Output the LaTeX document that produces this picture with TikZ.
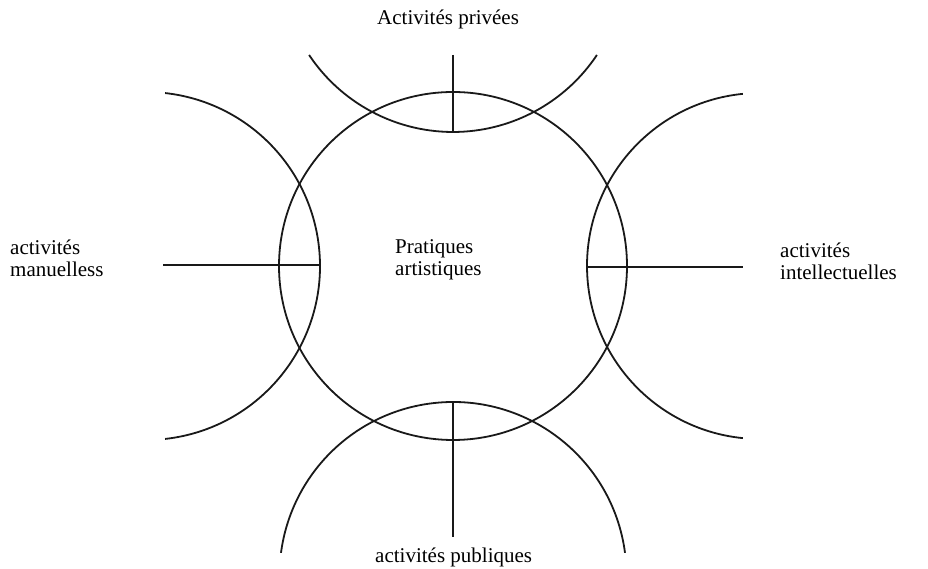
\documentclass[tikz,border=0pt]{standalone}
\usepackage{fontspec}
\setmainfont{Liberation Serif}
\begin{document}
\begin{tikzpicture}[x=1pt,y=1pt,
  ring/.style={line width=1.8pt, draw=black!90},
  axis/.style={line width=1.8pt, draw=black!90},
  lbl/.style={inner sep=0pt, font=\fontsize{21}{22}\selectfont, align=left, anchor=base west}]
\useasboundingbox[fill=white] (0,0) rectangle (928,569);
% centres
\coordinate (cC) at (453,303);
\coordinate (cT) at (453,610);
\coordinate (cB) at (453,-6.5);
\coordinate (cL) at (146,303);
\coordinate (cR) at (760,303);
% circles and arcs
\draw[ring] (cC) circle[radius=174];
\draw[ring] ([shift={(213.7:173)}]cT) arc[start angle=213.7, end angle=326.3, radius=173];
\draw[ring] ([shift={(7.5:173.5)}]cB) arc[start angle=7.5, end angle=172.5, radius=173.5];
\draw[ring] ([shift={(-83.7:174)}]cL) arc[start angle=-83.7, end angle=83.7, radius=174];
\draw[ring] ([shift={(95.7:173)}]cR) arc[start angle=95.7, end angle=264.3, radius=173];
% axis lines
\coordinate (tA) at (453,514);
\coordinate (tB) at (453,437);
\coordinate (bA) at (453,167);
\coordinate (bB) at (453,32);
\coordinate (lA) at (163,304);
\coordinate (lB) at (320,304);
\coordinate (rA) at (587,302);
\coordinate (rB) at (743,302);
\draw[axis] (tA) -- (tB);
\draw[axis] (bA) -- (bB);
\draw[axis] (lA) -- (lB);
\draw[axis] (rA) -- (rB);
% labels
\node[lbl] (top) at (377,544) {Activités privées};
\node[lbl] (bot) at (375,6) {activités publiques};
\node[lbl] (left) at (10,292) {activités\\manuelless};
\node[lbl] (right) at (780,289) {activités\\intellectuelles};
\node[lbl] (mid) at (395,293) {Pratiques\\artistiques};
\end{tikzpicture}
\end{document}
